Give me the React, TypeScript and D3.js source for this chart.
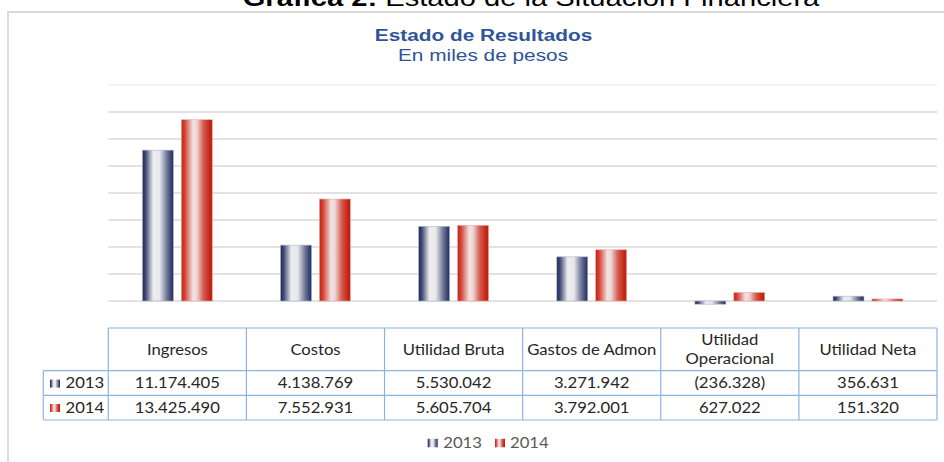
import React from "react";
import * as d3 from "d3";

const categories = ["Ingresos", "Costos", "Utilidad Bruta", "Gastos de Admon", "Utilidad Operacional", "Utilidad Neta"];
const series = ["2013", "2014"];
const values2013 = [11174405, 4138769, 5530042, 3271942, -236328, 356631];
const values2014 = [13425490, 7552931, 5605704, 3792001, 627022, 151320];
const yTicks = [0, 2000000, 4000000, 6000000, 8000000, 10000000, 12000000, 14000000, 16000000];

const W = 944, H = 462;
const plotLeft = 108.3, plotRight = 937;
const zeroY = 301, topY = 85;

const locale = d3.formatLocale({ decimal: ",", thousands: ".", grouping: [3], currency: ["$", ""] });
const fmt = locale.format("(,.0f");

const SText = ({ x, y, sx = 1.15, anchor = "middle", children, ...rest }: any) => (
  <text transform={`translate(${x},${y}) scale(${sx},1)`} textAnchor={anchor} {...rest}>{children}</text>
);

export default function App() {
  const x0 = d3.scaleBand<string>().domain(categories).range([plotLeft, plotRight]).padding(0);
  const x1 = d3.scaleBand<string>().domain(series).range([0, x0.bandwidth()]).paddingInner(0.205).paddingOuter(0.877);
  const y = d3.scaleLinear().domain([0, 16000000]).range([zeroY, topY]);
  const data = [values2013, values2014];
  const grads = ["g2013", "g2014"];

  const tableTop = 328, headBot = 370.7, row1Bot = 395.3, row2Bot = 420;
  const legLeft = 43.3;
  const tableFont = "Lato, 'Open Sans', sans-serif";
  const tColor = "#262626";
  const bColor = "#8DB3E2";

  return (
    <svg width={W} height={H} style={{ position: "absolute", left: 0, top: 0, background: "#fff" }}>
      <defs>
        <linearGradient id="g2013" x1="0" x2="1" y1="0" y2="0">
          <stop offset="0" stopColor="#1F2B5E" />
          <stop offset="0.1" stopColor="#3E4872" />
          <stop offset="0.35" stopColor="#EDEDEE" />
          <stop offset="0.55" stopColor="#E9E9EC" />
          <stop offset="0.8" stopColor="#6C7393" />
          <stop offset="1" stopColor="#1F2B5E" />
        </linearGradient>
        <linearGradient id="g2014" x1="0" x2="1" y1="0" y2="0">
          <stop offset="0" stopColor="#C4200F" />
          <stop offset="0.12" stopColor="#D4483A" />
          <stop offset="0.38" stopColor="#F1E4E4" />
          <stop offset="0.5" stopColor="#EDD6D5" />
          <stop offset="0.72" stopColor="#D35A4E" />
          <stop offset="0.92" stopColor="#C62414" />
          <stop offset="1" stopColor="#C0200F" />
        </linearGradient>
      </defs>

      {/* document caption (cut off at top) */}
      <SText x={531} y={5.5} sx={1.24} fontFamily="'Liberation Sans', Arial, sans-serif" fontSize={23.5} fill="#000">
        <tspan fontWeight="bold">Gráfica 2:</tspan>
        <tspan> Estado de la Situación Financiera</tspan>
      </SText>

      {/* frame */}
      <path d={`M8,${H} V12 H${W}`} fill="none" stroke="#D9D9D9" strokeWidth={1.8} />

      {/* chart titles */}
      <SText x={483.5} y={41} sx={1.24} fontFamily="'Liberation Sans', Arial, sans-serif" fontSize={16.8} fontWeight="bold" fill="#2F5597">Estado de Resultados</SText>
      <SText x={483} y={61} sx={1.24} fontFamily="'Liberation Sans', Arial, sans-serif" fontSize={16.8} fill="#2F5597">En miles de pesos</SText>

      {/* gridlines */}
      {yTicks.map((t, i) => (
        <line key={t} x1={plotLeft} x2={plotRight} y1={y(t)} y2={y(t)} stroke={i === yTicks.length - 1 ? "#F0F0F0" : "#D9D9D9"} strokeWidth={1.3} />
      ))}

      {/* bars */}
      {categories.map((c, ci) => (
        <g key={c}>
          {series.map((s, si) => {
            const v = data[si][ci];
            const yy = Math.min(y(v), y(0));
            const h = Math.max(Math.abs(y(v) - y(0)), 0.8);
            return (
              <rect key={s} x={(x0(c) as number) + (x1(s) as number)} y={yy} width={x1.bandwidth()} height={h}
                fill={`url(#${grads[si]})`} stroke={si === 0 ? "#AEB4CC" : "#EBA69F"} strokeWidth={0.6} />
            );
          })}
        </g>
      ))}

      {/* data table */}
      <g fontFamily={tableFont} fontSize={14.5} fill={tColor}>
        {/* horizontal lines */}
        <line x1={plotLeft} x2={plotRight} y1={tableTop} y2={tableTop} stroke={bColor} strokeWidth={1.2} />
        <line x1={legLeft} x2={plotRight} y1={headBot} y2={headBot} stroke={bColor} strokeWidth={1.2} />
        <line x1={legLeft} x2={plotRight} y1={row1Bot} y2={row1Bot} stroke={bColor} strokeWidth={1.2} />
        <line x1={legLeft} x2={plotRight} y1={row2Bot} y2={row2Bot} stroke={bColor} strokeWidth={1.2} />
        {/* vertical lines */}
        <line x1={legLeft} x2={legLeft} y1={headBot} y2={row2Bot} stroke={bColor} strokeWidth={1.2} />
        {categories.map((c) => (
          <line key={c} x1={x0(c) as number} x2={x0(c) as number} y1={tableTop} y2={row2Bot} stroke={bColor} strokeWidth={1.2} />
        ))}
        <line x1={plotRight} x2={plotRight} y1={tableTop} y2={row2Bot} stroke={bColor} strokeWidth={1.2} />

        {/* headers */}
        {categories.map((c) => {
          const cx = (x0(c) as number) + x0.bandwidth() / 2;
          if (c.length > 16) {
            const words = c.split(" ");
            return (
              <g key={c}>
                <SText x={cx} y={345} fill={tColor}>{words[0]}</SText>
                <SText x={cx} y={364} fill={tColor}>{words.slice(1).join(" ")}</SText>
              </g>
            );
          }
          return <SText key={c} x={cx} y={354.5} fill={tColor}>{c}</SText>;
        })}

        {/* rows */}
        {series.map((s, si) => {
          const by = si === 0 ? 388.3 : 412.7;
          return (
            <g key={s}>
              <rect x={50} y={by - 8.7} width={10} height={8} fill={`url(#${grads[si]})`} />
              <SText x={65.5} y={by} anchor="start" fill={tColor}>{s}</SText>
              {categories.map((c, ci) => (
                <SText key={c} x={(x0(c) as number) + x0.bandwidth() / 2} y={by} fill={tColor}>{fmt(data[si][ci])}</SText>
              ))}
            </g>
          );
        })}
      </g>

      {/* bottom legend */}
      <g fontFamily={tableFont} fontSize={14.5} fill="#595959">
        <rect x={427.7} y={438.8} width={10} height={8.5} fill="url(#g2013)" />
        <SText x={443.3} y={447.5} anchor="start" fill="#595959">{series[0]}</SText>
        <rect x={495} y={438.8} width={10} height={8.5} fill="url(#g2014)" />
        <SText x={510} y={447.5} anchor="start" fill="#595959">{series[1]}</SText>
      </g>
    </svg>
  );
}
